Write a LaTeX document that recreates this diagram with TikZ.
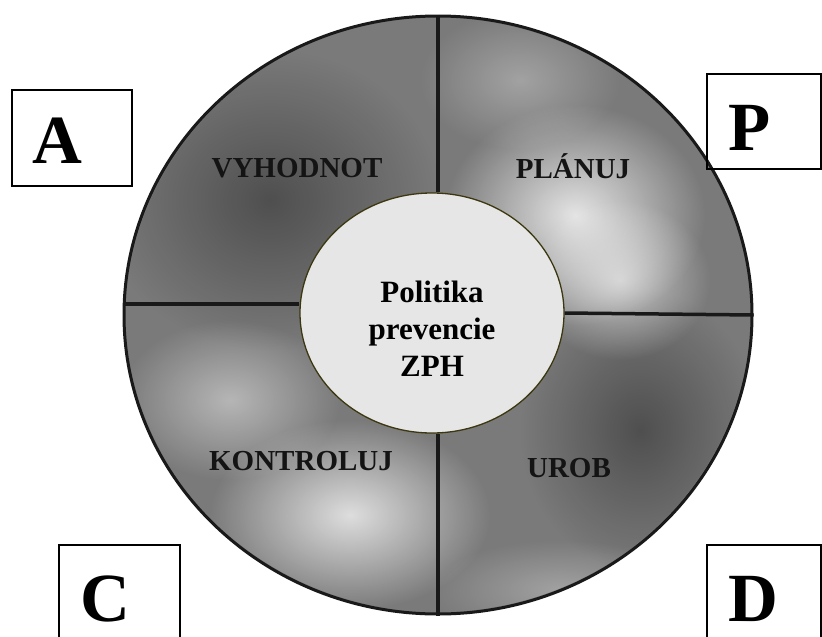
\documentclass[tikz,border=0pt]{standalone}
\usepackage{fontspec}
\setmainfont{Liberation Serif}
\usetikzlibrary{positioning, shapes.geometric, fadings}

\definecolor{rimline}{RGB}{25,25,25}
\definecolor{coreline}{RGB}{60,55,15}
\definecolor{corefill}{RGB}{230,230,230}
\tikzfading[name=blobfade, inner color=transparent!0, outer color=transparent!100]

\begin{document}
\begin{tikzpicture}[
  x=1pt, y=-1pt,
  % Estilos de formas
  disk/.style={draw=rimline, line width=3pt, ellipse, minimum width=628pt, minimum height=598pt, inner sep=0pt, fill=black!52},
  core/.style={draw=coreline, line width=1.3pt, ellipse, minimum width=264pt, minimum height=240pt, inner sep=0pt, fill=corefill},
  letterbox/.style={draw, line width=1.8pt, rectangle, inner sep=0pt},
  letter/.style={font=\fontsize{69}{69}\selectfont\bfseries, inner sep=0pt, anchor=base west},
  phase/.style={font=\fontsize{29}{29}\selectfont\bfseries, text=black!92, inner sep=0pt, anchor=base},
  policy/.style={font=\fontsize{31}{37}\selectfont\bfseries, align=center, inner sep=0pt},
  % Estilos de lineas y tonos
  divider/.style={draw=rimline, line width=3.5pt},
  light/.style={fill=white, path fading=blobfade},
  dark/.style={fill=black, path fading=blobfade}
]
  \useasboundingbox (0,0) rectangle (822,637);

  % ==========================================
  % OUTER DISK AND TONES
  % ==========================================
  \node[disk] (disk) at (438,315) {};
  \begin{scope}
    \clip (disk.center) ellipse [x radius=312pt, y radius=297pt];
    \fill[dark, fill opacity=.35] (270,200) ellipse [x radius=170pt, y radius=150pt];
    \fill[dark, fill opacity=.35] (640,430) ellipse [x radius=120pt, y radius=140pt];
    \fill[light, fill opacity=.8] (575,215) ellipse [x radius=130pt, y radius=110pt];
    \fill[light, fill opacity=.6] (620,280) ellipse [x radius=90pt, y radius=80pt];
    \fill[light, fill opacity=.3] (520,80) ellipse [x radius=100pt, y radius=70pt];
    \fill[light, fill opacity=.75] (350,515) ellipse [x radius=140pt, y radius=95pt];
    \fill[light, fill opacity=.45] (230,400) ellipse [x radius=110pt, y radius=80pt];
    \fill[light, fill opacity=.3] (560,590) ellipse [x radius=130pt, y radius=50pt];
  \end{scope}

  % ==========================================
  % CENTRE: POLICY
  % ==========================================
  \node[core] (core) at (432,313) {};
  \node[policy] (politika) at (432,329) {Politika\\prevencie\\ZPH};

  % Divisiones de cuadrantes
  \draw[divider] (disk.north) -- (disk.north |- core.north);
  \draw[divider] (disk.south) -- (disk.south |- core.south);
  \draw[divider] (disk.178) -- (disk.178 -| core.west);
  \draw[divider] (disk.east) -- (core.east);

  % ==========================================
  % QUADRANT LABELS
  % ==========================================
  \node[phase] (vyhodnot) at (297,177) {VYHODNOT};
  \node[phase] (planuj) at (573,178) {PLÁNUJ};
  \node[phase] (kontroluj) at (301,470) {KONTROLUJ};
  \node[phase] (urob) at (569,477) {UROB};

  % ==========================================
  % CORNER BOXES: P D C A
  % ==========================================
  \node[letterbox, minimum width=120pt, minimum height=96pt] (boxA) at (72,138) {};
  \node[letter] (lA) at (32,163) {A};

  \node[letterbox, minimum width=114pt, minimum height=95pt] (boxP) at (764,121.5) {};
  \node[letter] (lP) at (728,150) {P};

  \node[letterbox, minimum width=121pt, minimum height=135pt] (boxC) at (119.5,612.5) {};
  \node[letter] (lC) at (80,621) {C};

  \node[letterbox, minimum width=114pt, minimum height=135pt] (boxD) at (764,612.5) {};
  \node[letter] (lD) at (728,621) {D};

\end{tikzpicture}
\end{document}
